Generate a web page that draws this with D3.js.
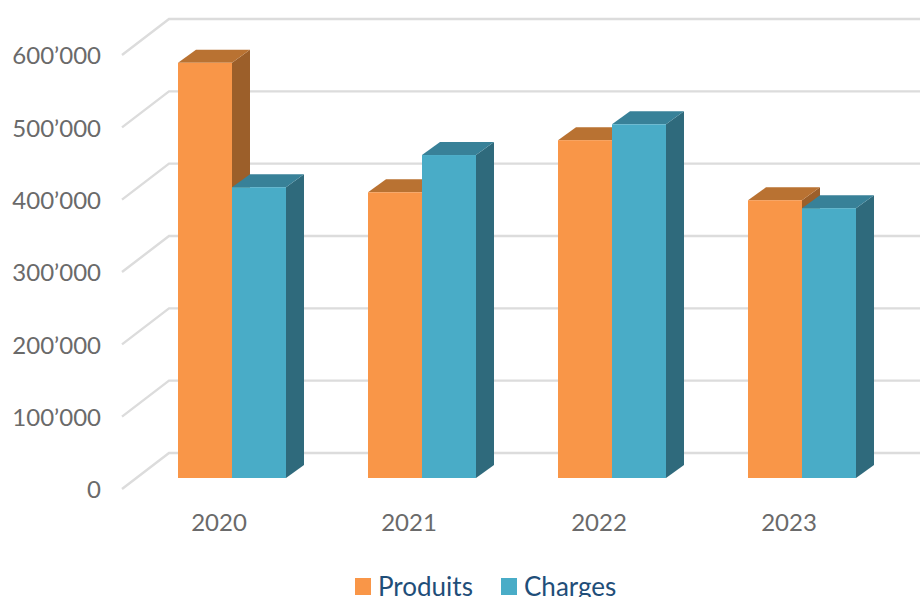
<!DOCTYPE html>
<html lang="en">
<head>
    <meta charset="UTF-8">
    <title>Produits et charges</title>
    <script src="https://d3js.org/d3.v7.min.js"></script>
    <style>
        html, body {
            margin: 0;
            padding: 0;
            background: #fff;
            overflow: hidden;
        }
        svg {
            display: block;
        }
        svg text {
            font-family: Lato, "Open Sans", sans-serif;
        }
        .axis text {
            fill: #6a6a6a;
            font-size: 24px;
        }
        .legend text {
            fill: #1f4e79;
            font-size: 26px;
        }
        .grid {
            stroke: #dcdcdc;
            stroke-width: 2.4;
            fill: none;
        }
    </style>
</head>
<body>
    <div id="chart"></div>
    <script>
        const years = ["2020", "2021", "2022", "2023"];
        const seriesNames = ["Produits", "Charges"];
        const produits = [574000, 395000, 467000, 384000];
        const charges = [402000, 446500, 489000, 373000];
        const yTicks = [0, 100000, 200000, 300000, 400000, 500000, 600000];

        const colors = {
            Produits: { front: "#f99648", top: "#b97232", side: "#9c5f2a" },
            Charges: { front: "#49acc7", top: "#388198", side: "#2f6a7c" }
        };

        const width = 920, height = 597;
        // offset of the chart depth, front plane to back plane
        const depthX = 18, depthY = -13;

        const svg = d3.select("#chart").append("svg")
            .attr("width", width)
            .attr("height", height);

        const x = d3.scaleBand()
            .domain(years)
            .range([137, 897])
            .paddingInner(0)
            .paddingOuter(0);

        const xInner = d3.scaleBand()
            .domain(seriesNames)
            .range([41, 149]);

        // y for the bar front faces
        const y = d3.scaleLinear()
            .domain([0, 600000])
            .range([478, 44]);

        const swissFormat = d3.formatLocale({
            decimal: ".",
            thousands: "’",
            grouping: [3],
            currency: ["", ""]
        }).format(",");

        // walls: side wall line + back wall line for each tick
        svg.selectAll(".grid")
            .data(yTicks)
            .enter().append("path")
            .attr("class", "grid")
            .attr("d", d => `M122,${y(d) + 11}L169,${y(d) - 25}L${width},${y(d) - 25}`);

        const yAxis = d3.axisLeft(y.copy().range([490, 56]))
            .tickValues(yTicks)
            .tickSize(0)
            .tickPadding(0)
            .tickFormat(swissFormat);

        svg.append("g")
            .attr("class", "axis")
            .attr("transform", "translate(101,0)")
            .call(yAxis)
            .call(g => g.select(".domain").remove());

        const xAxis = d3.axisBottom(x)
            .tickSize(0)
            .tickPadding(0);

        svg.append("g")
            .attr("class", "axis")
            .attr("transform", "translate(-13,514)")
            .call(xAxis)
            .call(g => g.select(".domain").remove());

        const rows = years.flatMap((year, i) => [
            { year, name: "Produits", value: produits[i] },
            { year, name: "Charges", value: charges[i] }
        ]);

        const bars = svg.selectAll(".bar")
            .data(rows)
            .enter().append("g")
            .attr("class", "bar");

        const left = d => x(d.year) + xInner(d.name);
        const right = d => left(d) + xInner.bandwidth();

        bars.append("path")
            .attr("fill", d => colors[d.name].side)
            .attr("d", d => `M${right(d)},${y(0)}L${right(d) + depthX},${y(0) + depthY}` +
                `L${right(d) + depthX},${y(d.value) + depthY}L${right(d)},${y(d.value)}Z`);

        bars.append("path")
            .attr("fill", d => colors[d.name].top)
            .attr("d", d => `M${left(d)},${y(d.value)}L${left(d) + depthX},${y(d.value) + depthY}` +
                `L${right(d) + depthX},${y(d.value) + depthY}L${right(d)},${y(d.value)}Z`);

        bars.append("rect")
            .attr("fill", d => colors[d.name].front)
            .attr("x", left)
            .attr("y", d => y(d.value))
            .attr("width", xInner.bandwidth())
            .attr("height", d => y(0) - y(d.value));

        const legendX = d3.scaleOrdinal().domain(seriesNames).range([355, 501]);

        const legend = svg.selectAll(".legend")
            .data(seriesNames)
            .enter().append("g")
            .attr("class", "legend")
            .attr("transform", d => `translate(${legendX(d)},578)`);

        legend.append("rect")
            .attr("width", 16)
            .attr("height", 17)
            .attr("fill", d => colors[d].front);

        // the reference cuts the legend descender at the page bottom, kept the same
        legend.append("text")
            .attr("x", 23)
            .attr("y", 18)
            .text(d => d);
    </script>
</body>
</html>
